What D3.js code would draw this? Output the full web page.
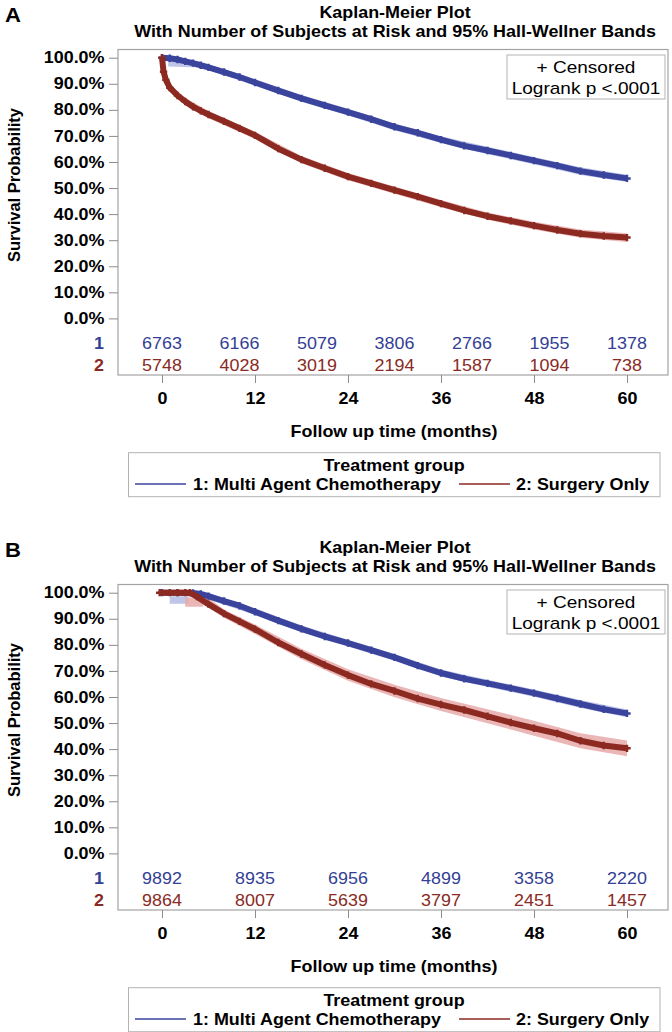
<!DOCTYPE html>
<html><head><meta charset="utf-8">
<script src="https://cdn.jsdelivr.net/npm/d3@7"></script>
<style>html,body{margin:0;padding:0;background:#fff}svg{display:block}</style>
</head><body>
<div id="chart"></div>
<script>
// ---------- DATA ----------
const panelLabels = ["A", "B"];
const titleLine1 = "Kaplan-Meier Plot";
const titleLine2 = "With Number of Subjects at Risk and 95% Hall-Wellner Bands";
const groupNames = ["1: Multi Agent Chemotherapy", "2: Surgery Only"];
const yTicks = [0, 0.1, 0.2, 0.3, 0.4, 0.5, 0.6, 0.7, 0.8, 0.9, 1.0];
const xTicks = [0, 12, 24, 36, 48, 60];

// Panel A – group 1 (chemo)
const timeA1 = [0, 1, 2, 3, 4, 5, 6, 8, 10, 12, 15, 18, 21, 24, 27, 30, 33, 36, 39, 42, 45, 48, 51, 54, 57, 60];
const survA1 = [100, 99.8, 99.3, 98.6, 97.9, 97.1, 96.3, 94.5, 92.6, 90.5, 87.4, 84.4, 81.7, 79.1, 76.4, 73.5, 71.2, 68.6, 66.2, 64.4, 62.5, 60.5, 58.6, 56.5, 55.0, 53.7];
// Panel A – group 2 (surgery)
const timeA2 = [0, 0.2, 0.5, 1, 2, 3, 4, 5, 6, 8, 10, 12, 15, 18, 21, 24, 27, 30, 33, 36, 39, 42, 45, 48, 51, 54, 57, 60];
const survA2 = [100, 94.6, 91.5, 88.5, 85.5, 83.2, 81.2, 79.6, 78.2, 75.6, 72.9, 70.2, 65.1, 60.9, 57.6, 54.4, 51.8, 49.2, 46.7, 44.0, 41.4, 39.2, 37.4, 35.6, 33.9, 32.5, 31.6, 31.0];
// Panel A bands
const bandTimeA1 = [0.8, 5, 6, 8, 12, 18, 24, 30, 36, 42, 48, 54, 60];
const bandLoA1 = [96.6, 96.2, 95.2, 93.3, 89.3, 83.1, 77.8, 72.2, 67.3, 63.0, 59.1, 55.0, 52.3];
const bandHiA1 = [100, 97.7, 97.3, 95.7, 91.7, 85.7, 80.4, 74.8, 69.9, 65.8, 61.9, 58.0, 55.1];
const bandTimeA2 = [0, 1, 3, 6, 12, 18, 24, 30, 36, 42, 48, 54, 60];
const bandLoA2 = [98.5, 87.0, 81.8, 76.8, 68.8, 59.5, 53.0, 47.8, 42.6, 37.8, 34.1, 30.9, 29.3];
const bandHiA2 = [100, 90.0, 84.6, 79.6, 71.6, 62.3, 55.8, 50.6, 45.4, 40.6, 37.1, 34.1, 32.7];
// Panel A at risk
const riskTimesA = [0, 10, 20, 30, 40, 50, 60];
const riskA1 = [6763, 6166, 5079, 3806, 2766, 1955, 1378];
const riskA2 = [5748, 4028, 3019, 2194, 1587, 1094, 738];

// Panel B – group 1 (chemo)
const timeB1 = [0, 2, 4, 5, 6, 8, 10, 12, 15, 18, 21, 24, 27, 30, 33, 36, 39, 42, 45, 48, 51, 54, 57, 60];
const survB1 = [100, 100, 99.9, 99.5, 98.7, 96.8, 95.0, 92.7, 89.3, 86.1, 83.2, 80.7, 78.0, 75.2, 72.0, 69.2, 67.0, 65.2, 63.4, 61.5, 59.4, 57.3, 55.3, 53.7];
// Panel B – group 2 (surgery)
const timeB2 = [-0.3, 1, 2, 3, 3.6, 4.5, 6, 8, 10, 12, 15, 18, 21, 24, 27, 30, 33, 36, 39, 42, 45, 48, 51, 54, 57, 60];
const survB2 = [100, 100, 100, 100, 100, 98.5, 95.6, 92.0, 89.0, 86.0, 80.9, 76.5, 72.3, 68.4, 65.0, 62.3, 59.4, 57.1, 55.0, 52.6, 50.2, 48.0, 46.0, 43.2, 41.4, 40.3];
// Panel B bands
const bandTimeB1 = [1, 3.4, 3.4, 6, 12, 18, 24, 30, 36, 42, 48, 54, 60];
const bandLoB1 = [95.8, 95.8, 98.6, 97.4, 91.4, 84.8, 79.4, 73.9, 67.9, 63.8, 60.1, 55.8, 52.2];
const bandHiB1 = [98.6, 98.6, 100, 99.8, 94.0, 87.4, 82.0, 76.5, 70.5, 66.6, 62.9, 58.8, 55.2];
const bandTimeB2 = [3, 5.3, 5.3, 8, 12, 18, 24, 30, 36, 42, 48, 54, 60];
const bandLoB2 = [94.6, 94.6, 95.5, 90.4, 84.2, 74.5, 66.2, 59.9, 54.6, 49.9, 45.1, 40.3, 37.3];
const bandHiB2 = [98.2, 98.2, 99.6, 93.6, 87.8, 78.5, 70.6, 64.7, 59.6, 55.3, 50.9, 46.1, 43.3];
// Panel B at risk
const riskTimesB = [0, 12, 24, 36, 48, 60];
const riskB1 = [9892, 8935, 6956, 4899, 3358, 2220];
const riskB2 = [9864, 8007, 5639, 3797, 2451, 1457];

// ---------- STYLE ----------
const W = 672, H = 1032;
const SX = 1.12;
const FONT = "Liberation Sans, Arial, Helvetica, sans-serif";
const lineCol = ["#3a449c", "#8c2a22"];
const textCol = ["#333f94", "#8a2a24"];
const bandCol = ["#b3bbe3", "#e7a9a9"];

const svg = d3.select("#chart").append("svg").attr("width", W).attr("height", H)
  .style("font-family", FONT);

function txt(g, x, y, s, o) {
  o = o || {};
  return g.append("text")
    .attr("transform", `translate(${x},${y}) scale(${o.sx || SX},1)`)
    .attr("text-anchor", o.anchor || "middle")
    .attr("dy", "0.35em")
    .attr("font-size", o.size || 16)
    .attr("font-weight", o.bold ? "bold" : "normal")
    .attr("fill", o.fill || "#000")
    .text(s);
}

function drawPanel(oy, p) {
  const g = svg.append("g").attr("transform", `translate(0,${oy})`);
  const x = d3.scaleLinear().domain([0, 60]).range([162, 627]);
  const y = d3.scaleLinear().domain([0, 1]).range([318.4, 57.7]);

  // labels & titles
  txt(g, 5, 15, p.label, {anchor: "start", size: 21, bold: true, sx: 1.05});
  txt(g, 395, 12.5, titleLine1, {size: 16, bold: true});
  txt(g, 395, 31.5, titleLine2, {size: 16, bold: true});

  // frame
  g.append("rect").attr("x", 118).attr("y", 49.5).attr("width", 550).attr("height", 325.5)
    .attr("fill", "none").attr("stroke", "#a3a3a3").attr("stroke-width", 1.2);

  // y axis
  const ya = g.append("g").attr("transform", "translate(118,0)")
    .call(d3.axisLeft(y).tickValues(yTicks).tickSize(9).tickFormat(d3.format(".1%")));
  ya.select(".domain").remove();
  ya.selectAll(".tick line").attr("stroke", "#8c8c8c");
  ya.selectAll(".tick text").attr("x", -13.5 / SX).attr("transform", `scale(${SX},1)`)
    .attr("font-size", 16).attr("font-weight", "bold").attr("font-family", FONT).attr("fill", "#000");

  // x axis
  const xa = g.append("g").attr("transform", "translate(0,375)")
    .call(d3.axisBottom(x).tickValues(xTicks).tickSize(8).tickFormat(d3.format("d")));
  xa.select(".domain").remove();
  xa.selectAll(".tick line").attr("stroke", "#8c8c8c");
  xa.selectAll(".tick text").attr("y", 23).attr("dy", "0.35em").attr("transform", `scale(${SX},1)`)
    .attr("font-size", 16).attr("font-weight", "bold").attr("font-family", FONT).attr("fill", "#000");

  // axis titles
  txt(g, 394, 431.5, "Follow up time (months)", {size: 16, bold: true});
  g.append("text").attr("transform", "translate(14,185) rotate(-90)")
    .attr("text-anchor", "middle").attr("dy", "0.35em")
    .attr("font-size", 16.5).attr("font-weight", "bold").attr("fill", "#000")
    .text("Survival Probability");

  // bands
  const area = d3.area().x(d => x(d.t)).y0(d => y(d.lo / 100)).y1(d => y(d.hi / 100));
  p.bands.forEach((b, i) => {
    const data = b.t.map((t, k) => ({t, lo: b.lo[k], hi: b.hi[k]}));
    g.append("path").attr("d", area(data)).attr("fill", bandCol[i]).attr("opacity", 0.85);
  });

  // curves with censor marks
  const line = d3.line().x(d => x(d.t)).y(d => y(d.s / 100));
  p.curves.forEach((c, i) => {
    const data = c.t.map((t, k) => ({t, s: c.s[k]}));
    g.append("path").attr("d", line(data)).attr("fill", "none")
      .attr("stroke", lineCol[i]).attr("stroke-width", 6).attr("stroke-linejoin", "round");
    g.append("g").selectAll("path").data(data).join("path")
      .attr("d", d3.symbol(d3.symbolCross, 30))
      .attr("transform", d => `translate(${x(d.t)},${y(d.s / 100)})`)
      .attr("fill", lineCol[i]);
  });

  // censored box
  g.append("rect").attr("x", 507).attr("y", 55).attr("width", 158).attr("height", 44)
    .attr("fill", "#fff").attr("stroke", "#b3b3b3").attr("stroke-width", 1);
  txt(g, 586, 66.7, "+ Censored", {size: 17});
  txt(g, 586, 87.7, "Logrank p <.0001", {size: 17});

  // at risk table
  const rowY = [343.3, 365];
  p.risk.forEach((r, i) => {
    txt(g, 99, rowY[i], String(i + 1), {size: 16, bold: true, fill: textCol[i]});
    r.forEach((v, k) => txt(g, x(p.riskTimes[k]), rowY[i], String(v), {size: 16, fill: textCol[i]}));
  });

  // legend
  g.append("rect").attr("x", 128.5).attr("y", 452.7).attr("width", 531.5).attr("height", 44)
    .attr("fill", "#fff").attr("stroke", "#b3b3b3").attr("stroke-width", 1);
  txt(g, 394, 465, "Treatment group", {size: 16, bold: true});
  const legX = [[135, 186, 193], [459, 510, 516]];
  groupNames.forEach((n, i) => {
    g.append("line").attr("x1", legX[i][0]).attr("x2", legX[i][1]).attr("y1", 484).attr("y2", 484)
      .attr("stroke", lineCol[i]).attr("stroke-width", 1.5);
    txt(g, legX[i][2], 484, n, {anchor: "start", size: 16, bold: true});
  });
}

drawPanel(0, {
  label: panelLabels[0],
  curves: [{t: timeA1, s: survA1}, {t: timeA2, s: survA2}],
  bands: [{t: bandTimeA1, lo: bandLoA1, hi: bandHiA1}, {t: bandTimeA2, lo: bandLoA2, hi: bandHiA2}],
  riskTimes: riskTimesA, risk: [riskA1, riskA2]
});
drawPanel(535, {
  label: panelLabels[1],
  curves: [{t: timeB1, s: survB1}, {t: timeB2, s: survB2}],
  bands: [{t: bandTimeB1, lo: bandLoB1, hi: bandHiB1}, {t: bandTimeB2, lo: bandLoB2, hi: bandHiB2}],
  riskTimes: riskTimesB, risk: [riskB1, riskB2]
});
</script>
</body></html>
